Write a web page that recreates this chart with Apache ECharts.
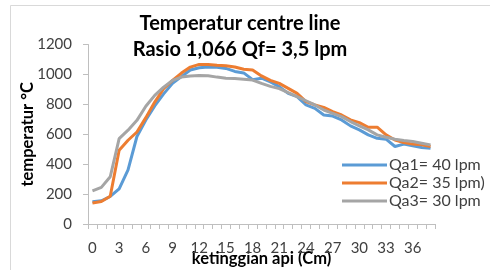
<!DOCTYPE html>
<html>
<head>
<meta charset="utf-8">
<script src="https://cdn.jsdelivr.net/npm/echarts@6/dist/echarts.min.js"></script>
<style>
  html, body { margin: 0; padding: 0; background: #fff; }
  #main { width: 490px; height: 270px; }
</style>
</head>
<body>
<div id="main"></div>
<script>
// ketinggian api (cm), 0..38
var categories = [];
for (var c = 0; c <= 38; c++) categories.push(String(c));

var yTicks = [0, 200, 400, 600, 800, 1000, 1200];

var qa1 = [148, 155, 184, 235, 362, 585, 695, 790, 870, 940, 985, 1030, 1045, 1050, 1048, 1040, 1020, 1010, 965, 975,
           950, 918, 873, 851, 796, 773, 729, 722, 696, 656, 629, 596, 573, 567, 518, 534, 523, 512, 507];
var qa2 = [140, 150, 185, 493, 560, 615, 711, 815, 904, 960, 1009, 1049, 1067, 1067, 1062, 1058, 1050, 1035, 1030, 990,
           960, 940, 907, 873, 818, 796, 780, 751, 729, 696, 678, 647, 647, 596, 562, 545, 534, 529, 518];
var qa3 = [222, 245, 316, 571, 627, 693, 787, 860, 915, 960, 982, 989, 993, 991, 982, 975, 972, 968, 962, 940,
           920, 905, 878, 851, 824, 796, 762, 740, 718, 685, 656, 629, 596, 580, 567, 558, 551, 540, 529];

var seriesNames = ['Qa1= 40 lpm', 'Qa2= 35 lpm)', 'Qa3= 30 lpm'];
var seriesColors = ['#5B9BD5', '#ED7D31', '#A5A5A5'];

var font = 'Lato, "Open Sans", sans-serif';

var chartDom = document.getElementById('main');
var myChart = echarts.init(chartDom, null, { renderer: 'canvas' });

var makeSeries = function (i, data) {
    return {
        name: seriesNames[i],
        type: 'line',
        data: data,
        symbol: 'none',
        lineStyle: { width: 3, color: seriesColors[i] },
        itemStyle: { color: seriesColors[i] }
    };
};

var option = {
    animation: false,
    textStyle: { fontFamily: font },
    graphic: [
        // rand chart area (kiri + atas)
        { type: 'polyline', shape: { points: [[10.5, 270], [10.5, 5.5], [490, 5.5]] },
          style: { stroke: '#d9d9d9', lineWidth: 1, fill: null } }
    ],
    title: {
        text: 'Temperatur centre line\nRasio 1,066 Qf= 3,5 lpm',
        left: 240,
        top: 11,
        padding: 0,
        textAlign: 'center',
        textStyle: { fontFamily: font, fontSize: 20, fontWeight: 'bold', color: '#000', lineHeight: 26 }
    },
    legend: {
        orient: 'vertical',
        left: 342,
        top: 157,
        padding: 0,
        itemWidth: 45,
        itemHeight: 3,
        itemGap: 2,
        icon: 'rect',
        data: seriesNames,
        textStyle: { fontFamily: font, fontSize: 16, color: '#404040', padding: [0, 0, 0, -3] }
    },
    grid: { left: 88, right: 55, top: 44.5, bottom: 46, containLabel: false, outerBoundsMode: 'none' },
    xAxis: {
        type: 'category',
        data: categories,
        boundaryGap: true,
        name: 'ketinggian api (Cm)',
        nameLocation: 'middle',
        nameGap: 26,
        nameMoveOverlap: false,
        nameTextStyle: { fontFamily: font, fontSize: 16.5, fontWeight: 'bold', color: '#000' },
        axisLine: { lineStyle: { color: '#bfbfbf', width: 1 } },
        axisTick: { show: true, interval: 0, length: 5, lineStyle: { color: '#bfbfbf' } },
        axisLabel: { interval: 2, fontSize: 15, color: '#404040', margin: 17, fontFamily: font },
        splitLine: { show: false }
    },
    yAxis: {
        type: 'value',
        min: yTicks[0],
        max: yTicks[yTicks.length - 1],
        interval: 200,
        name: 'temperatur °C',
        nameLocation: 'middle',
        nameRotate: 90,
        nameGap: 52,
        nameMoveOverlap: false,
        nameTextStyle: { fontFamily: font, fontSize: 16.5, fontWeight: 'bold', color: '#000' },
        axisLine: { show: true, lineStyle: { color: '#bfbfbf', width: 1 } },
        axisTick: { show: true, length: 5, lineStyle: { color: '#bfbfbf' } },
        axisLabel: { fontSize: 15, color: '#404040', margin: 16, fontFamily: font,
                     formatter: function (v) { return String(v); } },
        splitLine: { show: false }
    },
    series: [
        makeSeries(0, qa1),
        makeSeries(1, qa2),
        makeSeries(2, qa3)
    ]
};

option && myChart.setOption(option);
</script>
</body>
</html>
